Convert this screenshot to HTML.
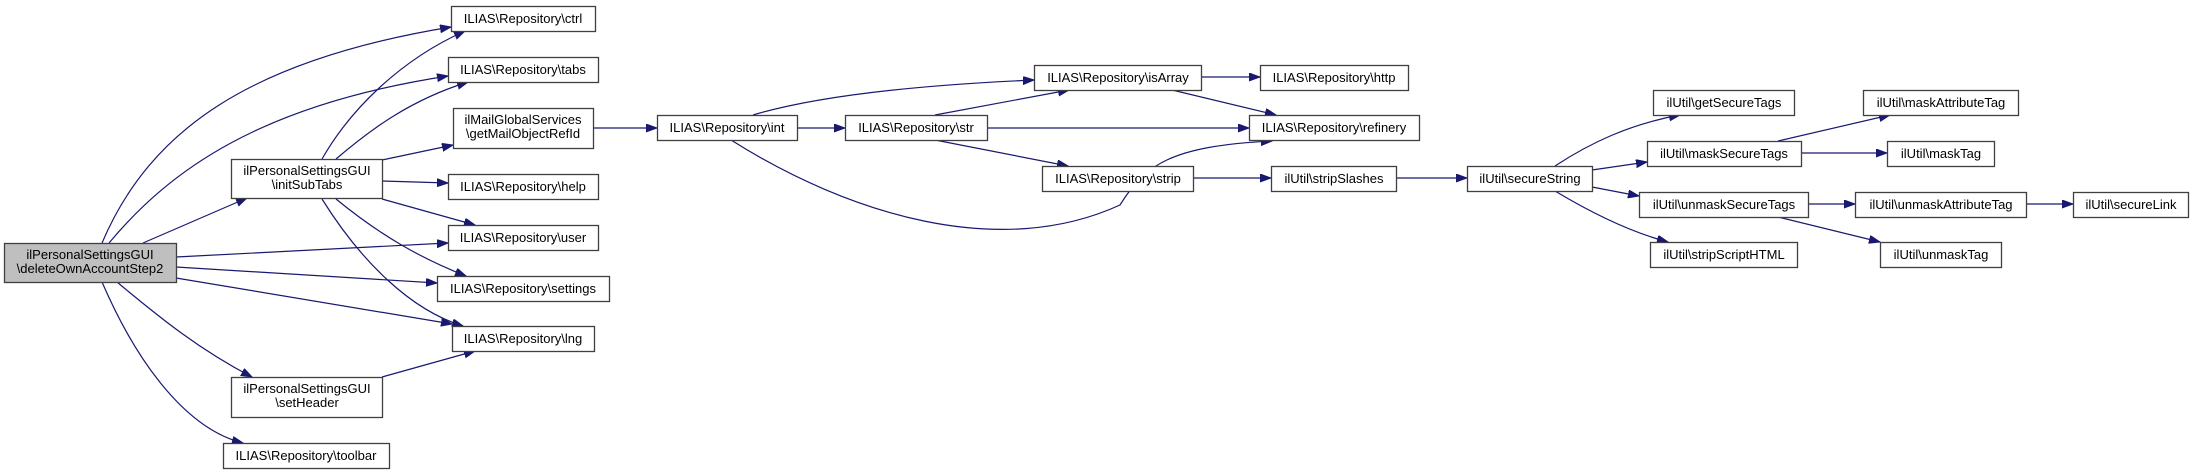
<!DOCTYPE html>
<html><head><meta charset="utf-8"><style>
html,body{margin:0;padding:0;background:#fff;}
svg{display:block}
text{font-family:"Liberation Sans",Arial,sans-serif;font-size:13px;fill:#000;text-anchor:middle}
rect{fill:#fff;stroke:#404040;stroke-width:1.3}
path.e{fill:none;stroke:#191970;stroke-width:1.2;marker-end:url(#a)}
</style></head><body>
<svg width="2193" height="475" viewBox="0 0 2193 475" xmlns="http://www.w3.org/2000/svg">
<defs><marker id="a" markerUnits="userSpaceOnUse" markerWidth="12" markerHeight="9" refX="11" refY="4" orient="auto"><path d="M0,0 L11,4 L0,8 z" fill="#191970" stroke="#191970"/></marker></defs>

<!-- edges -->
<path class="e" d="M102,243 C150,130 250,60 451,27"/>
<path class="e" d="M109,243 C170,170 260,105 448,76"/>
<path class="e" d="M143,243 L247,198"/>
<path class="e" d="M176,257 L448,243"/>
<path class="e" d="M176,267 L437,283"/>
<path class="e" d="M176,278 L452,324"/>
<path class="e" d="M117,282 C160,318 200,350 252,377"/>
<path class="e" d="M102,282 C140,370 190,430 243,443"/>
<path class="e" d="M322,159 C350,110 400,60 465,31"/>
<path class="e" d="M336,159 C370,130 410,100 468,82"/>
<path class="e" d="M382,160 L453,145"/>
<path class="e" d="M382,181 L448,183"/>
<path class="e" d="M382,199 L475,225"/>
<path class="e" d="M336,199 C380,235 420,258 466,276"/>
<path class="e" d="M322,199 C360,260 410,310 463,326"/>
<path class="e" d="M382,377 L475,351"/>
<path class="e" d="M593,128 L657,128"/>
<path class="e" d="M797,128 L845,128"/>
<path class="e" d="M753,115 C820,95 920,85 1034,80"/>
<path class="e" d="M731,140 C850,215 1000,260 1120,205 C1145,165 1170,146 1272,141"/>
<path class="e" d="M935,115 L1069,90"/>
<path class="e" d="M987,128 L1249,128"/>
<path class="e" d="M935,140 L1068,166"/>
<path class="e" d="M1201,77 L1260,77"/>
<path class="e" d="M1172,90 L1276,115"/>
<path class="e" d="M1193,178 L1271,178"/>
<path class="e" d="M1396,178 L1467,178"/>
<path class="e" d="M1555,166 C1590,143 1630,124 1680,115"/>
<path class="e" d="M1592,170 L1647,162"/>
<path class="e" d="M1592,187 L1639,196"/>
<path class="e" d="M1555,191 C1590,212 1630,232 1668,242"/>
<path class="e" d="M1778,141 L1890,115"/>
<path class="e" d="M1801,153 L1887,153"/>
<path class="e" d="M1808,204 L1855,204"/>
<path class="e" d="M1778,217 L1880,242"/>
<path class="e" d="M2026,204 L2073,204"/>

<!-- nodes -->
<rect x="4.5" y="243.5" width="172" height="39" style="fill:#bfbfbf"/>
<text x="90" y="259">ilPersonalSettingsGUI</text><text x="90" y="273">\deleteOwnAccountStep2</text>

<rect x="231.5" y="159.5" width="151" height="39"/>
<text x="307" y="175">ilPersonalSettingsGUI</text><text x="307" y="189">\initSubTabs</text>
<rect x="231.5" y="377.5" width="151" height="40"/>
<text x="307" y="393">ilPersonalSettingsGUI</text><text x="307" y="407">\setHeader</text>
<rect x="223.5" y="443.5" width="166" height="25"/><text x="306" y="460">ILIAS\Repository\toolbar</text>

<rect x="451.5" y="6.5" width="144" height="25"/><text x="523" y="23">ILIAS\Repository\ctrl</text>
<rect x="448.5" y="57.5" width="150" height="25"/><text x="523" y="74">ILIAS\Repository\tabs</text>
<rect x="453.5" y="108.5" width="140" height="40"/><text x="523" y="124">ilMailGlobalServices</text><text x="523" y="138">\getMailObjectRefId</text>
<rect x="448.5" y="174.5" width="150" height="25"/><text x="523" y="191">ILIAS\Repository\help</text>
<rect x="448.5" y="225.5" width="150" height="25"/><text x="523" y="242">ILIAS\Repository\user</text>
<rect x="437.5" y="276.5" width="172" height="25"/><text x="523" y="293">ILIAS\Repository\settings</text>
<rect x="452.5" y="326.5" width="142" height="25"/><text x="523" y="343">ILIAS\Repository\lng</text>

<rect x="657.5" y="115.5" width="140" height="25"/><text x="727" y="132">ILIAS\Repository\int</text>
<rect x="845.5" y="115.5" width="142" height="25"/><text x="916" y="132">ILIAS\Repository\str</text>
<rect x="1034.5" y="65.5" width="167" height="25"/><text x="1118" y="82">ILIAS\Repository\isArray</text>
<rect x="1042.5" y="166.5" width="151" height="25"/><text x="1118" y="183">ILIAS\Repository\strip</text>
<rect x="1260.5" y="65.5" width="148" height="25"/><text x="1334" y="82">ILIAS\Repository\http</text>
<rect x="1249.5" y="115.5" width="170" height="25"/><text x="1334" y="132">ILIAS\Repository\refinery</text>
<rect x="1271.5" y="166.5" width="125" height="25"/><text x="1334" y="183">ilUtil\stripSlashes</text>
<rect x="1467.5" y="166.5" width="125" height="25"/><text x="1530" y="183">ilUtil\secureString</text>
<rect x="1653.5" y="90.5" width="141" height="25"/><text x="1724" y="107">ilUtil\getSecureTags</text>
<rect x="1647.5" y="141.5" width="154" height="25"/><text x="1724" y="158">ilUtil\maskSecureTags</text>
<rect x="1639.5" y="192.5" width="169" height="25"/><text x="1724" y="209">ilUtil\unmaskSecureTags</text>
<rect x="1650.5" y="242.5" width="147" height="25"/><text x="1724" y="259">ilUtil\stripScriptHTML</text>
<rect x="1863.5" y="90.5" width="155" height="25"/><text x="1941" y="107">ilUtil\maskAttributeTag</text>
<rect x="1887.5" y="141.5" width="107" height="25"/><text x="1941" y="158">ilUtil\maskTag</text>
<rect x="1855.5" y="192.5" width="171" height="25"/><text x="1941" y="209">ilUtil\unmaskAttributeTag</text>
<rect x="1880.5" y="242.5" width="121" height="25"/><text x="1941" y="259">ilUtil\unmaskTag</text>
<rect x="2073.5" y="192.5" width="115" height="25"/><text x="2131" y="209">ilUtil\secureLink</text>
</svg>
</body></html>
